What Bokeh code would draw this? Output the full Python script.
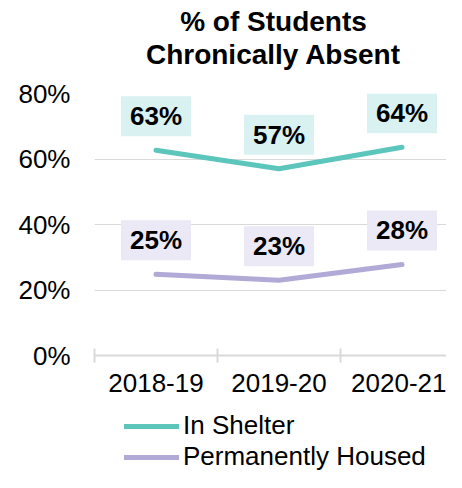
from bokeh.plotting import figure
from bokeh.models import (Range1d, FixedTicker, Legend, LegendItem, ColumnDataSource,
                          Label)
from bokeh.layouts import column
from bokeh.core.properties import value
from bokeh.embed import file_html
from bokeh.resources import INLINE

# ---- data ----
years = ["2018-19", "2019-20", "2020-21"]
in_shelter = [62.7, 57.0, 63.6]
perm_housed = [24.8, 23.0, 27.8]
y_ticks = [0, 20, 40, 60, 80]
series_names = ["In Shelter", "Permanently Housed"]
title_lines = ["% of Students", "Chronically Absent"]

TEAL = "#5cc5bc"
LAV = "#b1aad6"
TEAL_BG = "#d9f1f0"
LAV_BG = "#ebe9f5"
FONT = "Liberation Sans"

xpos = [i + 0.5 for i in range(len(years))]
XEND = 352 / 123

W = 446
TOP_H = 78      # title strip
MAIN_H = 322    # chart
LEG_H = 472 - TOP_H - MAIN_H

# ---- title strip ----
top = figure(width=W, height=TOP_H, output_backend="svg", toolbar_location=None,
             title=None, x_range=Range1d(0, 1), y_range=Range1d(0, 1),
             x_axis_type=None, y_axis_type=None, min_border=0)
top.outline_line_color = None
top.xgrid.visible = False
top.ygrid.visible = False
for txt, base in zip(title_lines, (21, 54)):
    top.add_layout(Label(x=179, y=TOP_H - base, x_units="screen", y_units="screen",
                         text=txt, text_align="center", text_baseline="alphabetic",
                         text_font=FONT, text_font_style="bold",
                         text_font_size="28px", text_color="black"))

# ---- chart ----
p = figure(width=W, height=MAIN_H, output_backend="svg", toolbar_location=None,
           title=None, x_range=Range1d(0, XEND), y_range=Range1d(0, 80),
           min_border_left=94, min_border_right=0, min_border_top=15,
           min_border_bottom=45)
p.outline_line_color = None
p.background_fill_color = "white"
p.border_fill_color = "white"

src1 = ColumnDataSource(dict(x=xpos, y=in_shelter,
                             lab=[f"{round(v)}%" for v in in_shelter]))
src2 = ColumnDataSource(dict(x=xpos, y=perm_housed,
                             lab=[f"{round(v)}%" for v in perm_housed]))

p.line("x", "y", source=src1, line_color=TEAL, line_width=5,
       line_cap="round", line_join="round")
p.line("x", "y", source=src2, line_color=LAV, line_width=5,
       line_cap="round", line_join="round")

for src, bg in ((src1, TEAL_BG), (src2, LAV_BG)):
    p.text("x", "y", text="lab", source=src, y_offset=-34,
           text_align="center", text_baseline="middle",
           text_font=value(FONT), text_font_style="bold", text_font_size="26px",
           text_color="black", background_fill_color=bg,
           padding=(9, 5))

p.xaxis.ticker = FixedTicker(ticks=xpos, minor_ticks=[0, 1, 2, 3])
p.xaxis.major_label_overrides = {x: y for x, y in zip(xpos, years)}
p.xaxis.major_tick_line_color = None
p.xaxis.major_tick_out = 0
p.xaxis.major_tick_in = 0
p.xaxis.minor_tick_line_color = "#d9d9d9"
p.xaxis.minor_tick_line_width = 2
p.xaxis.minor_tick_in = 7
p.xaxis.minor_tick_out = 7
p.xaxis.axis_line_color = "#d9d9d9"
p.xaxis.axis_line_width = 2
p.xaxis.major_label_standoff = 11
p.xaxis.major_label_text_font = FONT
p.xaxis.major_label_text_font_size = "26px"
p.xaxis.major_label_text_color = "black"

p.yaxis.ticker = FixedTicker(ticks=y_ticks)
p.yaxis.major_label_overrides = {v: f"{v}%" for v in y_ticks}
p.yaxis.axis_line_color = None
p.yaxis.major_tick_line_color = None
p.yaxis.minor_tick_line_color = None
p.yaxis.major_tick_out = 0
p.yaxis.major_label_standoff = 24
p.yaxis.major_label_text_font = FONT
p.yaxis.major_label_text_font_size = "26px"
p.yaxis.major_label_text_color = "black"

p.xgrid.grid_line_color = None
p.ygrid.ticker = FixedTicker(ticks=y_ticks)
p.ygrid.grid_line_color = "#d9d9d9"
p.ygrid.grid_line_width = 1

# ---- legend strip below the chart (same series, drawn off-range) ----
leg = figure(width=W, height=LEG_H, output_backend="svg",
             toolbar_location=None, title=None,
             x_range=Range1d(0, XEND), y_range=Range1d(-2, -1),
             x_axis_type=None, y_axis_type=None, min_border=0)
leg.outline_line_color = None
leg.background_fill_color = "white"
leg.xgrid.visible = False
leg.ygrid.visible = False
g1 = leg.line("x", "y", source=src1, line_color=TEAL, line_width=5,
              line_cap="round")
g2 = leg.line("x", "y", source=src2, line_color=LAV, line_width=5,
              line_cap="round")
legend = Legend(items=[LegendItem(label=series_names[0], renderers=[g1]),
                       LegendItem(label=series_names[1], renderers=[g2])],
                location=(30, 0), orientation="vertical",
                label_text_font=FONT, label_text_font_size="26px",
                label_text_color="black", glyph_width=55, glyph_height=26,
                label_height=26, label_standoff=4, spacing=0, padding=0,
                margin=0, border_line_color=None, background_fill_alpha=0)
leg.add_layout(legend, "center")

layout = column(top, p, leg, spacing=0)
open("out.html", "w").write(file_html(layout, INLINE))
